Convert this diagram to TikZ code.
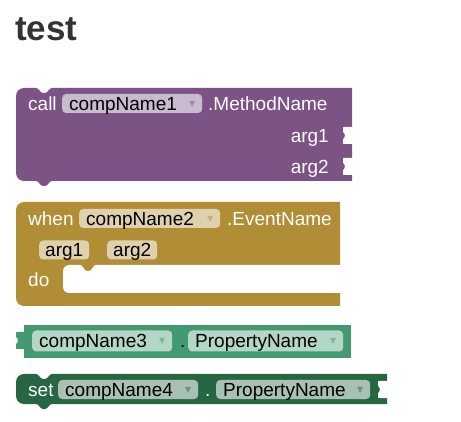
\documentclass[tikz,border=0pt]{standalone}
\usepackage{fontspec}
\setmainfont{Liberation Sans}
\newfontfamily\symfont{DejaVu Sans}
\usetikzlibrary{positioning}

\definecolor{methodc}{HTML}{7C5385}
\definecolor{eventc}{HTML}{B18E35}
\definecolor{getc}{HTML}{439970}
\definecolor{setc}{HTML}{266643}
\definecolor{titlec}{HTML}{333333}

\newcommand{\blockfont}{\fontsize{19}{21}\selectfont}
\newcommand{\ddarrow}[1]{\raisebox{4pt}{\textcolor{#1!70!white}{\symfont\fontsize{8}{8}\selectfont ▼}}}

% statement block: colour, left, top, right, bottom
\newcommand{\stmtblock}[5]{%
  \fill[#1] (#4,#3) -- ({#2+36},#3)
    .. controls ({#2+33},#3) and ({#2+32},{#3+5}) .. ({#2+29},{#3+5})
    -- ({#2+27},{#3+5})
    .. controls ({#2+24},{#3+5}) and ({#2+23},#3) .. ({#2+20},#3)
    -- ({#2+8},#3)
    .. controls ({#2+3.6},#3) and (#2,{#3+3.6}) .. (#2,{#3+8})
    -- (#2,{#5-8})
    .. controls (#2,{#5-3.6}) and ({#2+3.6},#5) .. ({#2+8},#5)
    -- ({#2+20},#5)
    .. controls ({#2+23},#5) and ({#2+24},{#5+5}) .. ({#2+27},{#5+5})
    -- ({#2+29},{#5+5})
    .. controls ({#2+32},{#5+5}) and ({#2+33},#5) .. ({#2+36},#5)
    -- (#4,#5) -- cycle;}

\tikzset{
  valuetab/.pic={
    \fill (1,0) -- (-7,0) .. controls (-9,0) .. (-9,2) -- (-9,5)
      .. controls (-6.5,6) and (-6.5,11) .. (-9,12)
      -- (-9,15) .. controls (-9,17) .. (-7,17) -- (1,17) -- cycle;
  },
  blocktext/.style={text=white, font=\blockfont, anchor=west, inner sep=0pt,
    text height=16.5pt, text depth=2.5pt},
  field/.style={fill=white, fill opacity=0.6, text opacity=1, text=black,
    font=\blockfont, anchor=west, rounded corners=4pt, inner xsep=7pt,
    inner ysep=0pt, text height=16.5pt, text depth=2.5pt},
  ddfield/.style={field, text width=#1, align=left},
}

\begin{document}
\begin{tikzpicture}[x=1pt, y=-1pt]
  \useasboundingbox (0,0) rectangle (461,422);

  \node[anchor=base west, text=titlec, font=\fontsize{35}{40}\selectfont\bfseries,
    inner sep=0pt] (title) at (15,41) {test};

  % call block
  \stmtblock{methodc}{16}{88}{352}{181}
  \pic[color=white] at (352,127) {valuetab};
  \pic[color=white] at (352,158) {valuetab};
  \node[blocktext] (calllbl) at (28,103.5) {call};
  \node[ddfield=126pt] (comp1) at (62,103.5) {compName1\hfill\ddarrow{methodc}};
  \node[blocktext] (method) at (208,103.5) {.MethodName};
  \node[blocktext, anchor=east] (marg1) at (329,135.5) {arg1};
  \node[blocktext, anchor=east] (marg2) at (329,167) {arg2};

  % when block
  \fill[eventc] (340,202) -- (24,202)
    .. controls (19.6,202) and (16,205.6) .. (16,210) -- (16,298)
    .. controls (16,302.4) and (19.6,306) .. (24,306) -- (340,306) -- cycle;
  \fill[white] (341,265) -- (96,265)
    .. controls (93,265) and (92,271) .. (89,271) -- (87,271)
    .. controls (84,271) and (83,265) .. (80,265) -- (69,265)
    .. controls (65.7,265) and (63,267.7) .. (63,271) -- (63,287)
    .. controls (63,290.3) and (65.7,293) .. (69,293) -- (341,293) -- cycle;
  \node[blocktext] (whenlbl) at (28,218.5) {when};
  \node[ddfield=127pt] (comp2) at (79,218.5) {compName2\hfill\ddarrow{eventc}};
  \node[blocktext] (event) at (227,218.5) {.EventName};
  \node[field, inner xsep=6pt] (earg1) at (39,250) {arg1};
  \node[field, inner xsep=6pt] (earg2) at (107,250) {arg2};
  \node[blocktext] (dolbl) at (28,280) {do};

  % getter block
  \fill[getc] (24,325) rectangle (351,358);
  \pic[color=getc] at (25,332) {valuetab};
  \node[ddfield=126pt, inner ysep=1pt] (comp3) at (32,341) {compName3\hfill\ddarrow{getc}};
  \node[blocktext, text=black] (dot3) at (180,341) {.};
  \node[ddfield=141pt, inner ysep=1pt] (prop3) at (188,341) {PropertyName\hfill\ddarrow{getc}};

  % setter block
  \stmtblock{setc}{16}{374}{387}{404}
  \pic[color=white] at (387,381) {valuetab};
  \node[blocktext] (setlbl) at (28,389.5) {set};
  \node[ddfield=126pt] (comp4) at (58,389.5) {compName4\hfill\ddarrow{setc}};
  \node[blocktext] (dot4) at (205,389.5) {.};
  \node[ddfield=140pt] (prop4) at (216,389.5) {PropertyName\hfill\ddarrow{setc}};
\end{tikzpicture}
\end{document}
